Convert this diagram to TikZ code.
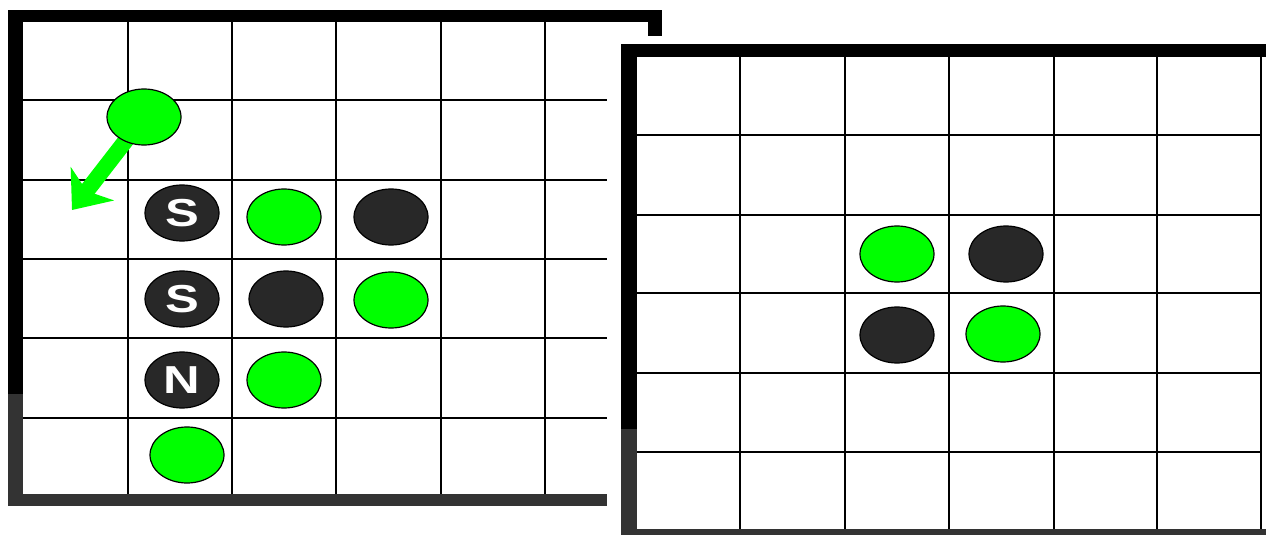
\documentclass[tikz,border=0pt]{standalone}
\usepackage{fontspec}
\setmainfont{Liberation Sans}
\usetikzlibrary{shapes.geometric,arrows.meta}
\definecolor{pgreen}{HTML}{00FF00}
\definecolor{pblack}{HTML}{282828}
\definecolor{bgrey}{HTML}{333333}
\begin{document}
\begin{tikzpicture}[x=1pt,y=-1pt,
  piece/.style={ellipse, draw=black, line width=1.2pt, minimum width=74pt, minimum height=56pt, inner sep=0pt},
  gp/.style={piece, fill=pgreen},
  bp/.style={piece, fill=pblack, text=white, font=\fontsize{39}{39}\selectfont\bfseries},
  gridline/.style={line width=1.8pt, black},
  movearrow/.style={pgreen, line width=16pt, -{Stealth[length=33pt,width=54pt,inset=9pt]}}
]
\useasboundingbox (0,0) rectangle (1266,535);
\fill[white] (0,0) rectangle (1266,535);

% left board
\foreach \x in {128,232,336,441,545} \draw[gridline] (\x,22) -- (\x,494);
\foreach \y in {100,180,259,338,418} \draw[gridline] (22,\y) -- (607,\y);
\fill[black] (8,10) rectangle (662,22);
\fill[black] (648,10) rectangle (662,36);
\fill[black] (8,10) rectangle (23,394);
\fill[bgrey] (8,394) rectangle (23,506);
\fill[bgrey] (8,494) rectangle (607,506);

% right board
\foreach \x in {740,845,949,1054,1157,1261} \draw[gridline] (\x,57) -- (\x,529);
\foreach \y in {135,215,293,373,452} \draw[gridline] (637,\y) -- (1261,\y);
\fill[black] (621,44) rectangle (1266,57);
\fill[black] (621,44) rectangle (637,429);
\fill[bgrey] (621,429) rectangle (637,535);
\fill[bgrey] (621,529) rectangle (1266,535);

% move arrow
\coordinate (g0c) at (144,117);
\coordinate (tip) at (72,210);
\draw[movearrow] (g0c) -- (tip);

% left pieces
\node[gp] (g0) at (g0c) {};
\node[bp] (s1) at (182,213) {\scalebox{1.3}[1]{S}};
\node[gp] (g1) at (284,217) {};
\node[bp] (b1) at (391,217) {};
\node[bp] (s2) at (182,299) {\scalebox{1.3}[1]{S}};
\node[bp] (b2) at (286,299) {};
\node[gp] (g2) at (391,300) {};
\node[bp] (n1) at (182,380) {\scalebox{1.3}[1]{N}};
\node[gp] (g3) at (284,380) {};
\node[gp] (g4) at (187,455) {};

% right pieces
\node[gp] (rg1) at (897,254) {};
\node[bp] (rb1) at (1006,254) {};
\node[bp] (rb2) at (897,335) {};
\node[gp] (rg2) at (1003,334) {};
\end{tikzpicture}
\end{document}
